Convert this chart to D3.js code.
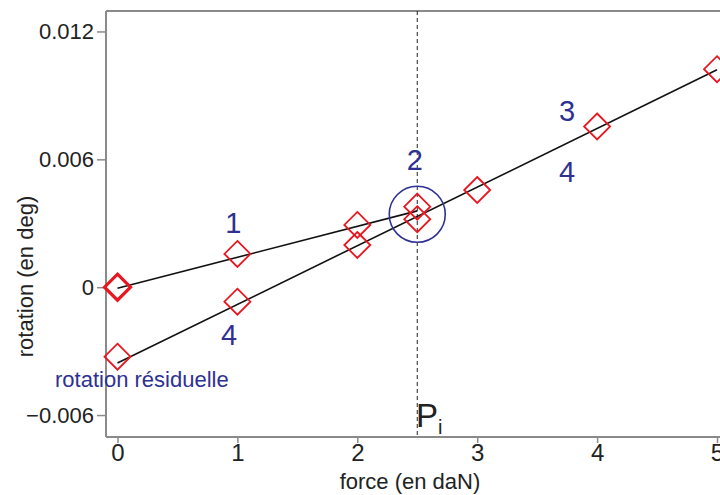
<!DOCTYPE html>
<html><head><meta charset="utf-8">
<script src="https://cdn.jsdelivr.net/npm/d3@7"></script>
<style>html,body{margin:0;padding:0;background:#fff;}svg{display:block;}</style>
</head><body>
<svg id="c" width="720" height="495"></svg>
<script>
// ---- data ----
const upperForces = [0, 1, 2, 2.5];
const upperRot    = [0, 0.00156, 0.00292, 0.00378];
const lowerForces = [0, 1, 2, 2.5, 3, 4, 5];
const lowerRot    = [-0.00326, -0.00068, 0.00198, 0.00319, 0.00456, 0.00754, 0.01023];
const upperFitX = [0, 2.5];
const upperFitY = [-0.00005, 0.00358];
const lowerFitX = [0, 5];
const lowerFitY = [-0.00356, 0.0102];
const xTicks = [0, 1, 2, 3, 4, 5];
const yTicks = [-0.006, 0, 0.006, 0.012];
const yTickLabels = ["\u22120.006", "0", "0.006", "0.012"];
const Pi = 2.5;
const circleCenter = [2.5, 0.00342];
const annotText = ["1", "4", "2", "3", "4"];
const annotX = [0.966, 0.93, 2.48, 3.75, 3.75];
const annotY = [0.00254, -0.00271, 0.0055, 0.00782, 0.00495];

// ---- layout ----
const svg = d3.select("#c");
const L = 106, T = 11, B = 437;
const x = d3.scaleLinear().domain([-0.1, 5.1]).range([105.5, 729]);
const y = d3.scaleLinear().domain([-0.00703, 0.01296]).range([B, T]);
const red = "#e8161e", blue = "#2e3192", gray = "#8a8a8a";
const font = "'Liberation Sans', Arial, sans-serif";

// frame
svg.append("line").attr("x1", L).attr("x2", 720).attr("y1", T).attr("y2", T)
  .attr("stroke", gray).attr("stroke-width", 2);

// axes
const yAxis = d3.axisLeft(y).tickValues(yTicks).tickFormat((d, i) => yTickLabels[i])
  .tickSizeInner(9).tickSizeOuter(0).tickPadding(3);
const gy = svg.append("g").attr("transform", `translate(${L},0)`).call(yAxis);
const xAxis = d3.axisBottom(x).tickValues(xTicks).tickFormat(d3.format("d"))
  .tickSizeInner(6).tickSizeOuter(0).tickPadding(1);
const gx = svg.append("g").attr("transform", `translate(0,${B})`).call(xAxis);
[gx, gy].forEach(g => {
  g.select(".domain").attr("stroke", gray).attr("stroke-width", 2);
  g.selectAll(".tick line").attr("stroke", gray).attr("stroke-width", 1.5);
  g.selectAll(".tick text").attr("fill", "#222").attr("font-family", font);
});
gy.selectAll(".tick text").attr("font-size", 22);
gx.selectAll(".tick text").attr("font-size", 24);
gy.select(".domain").attr("d", `M0,${B}V${T}`);
gx.select(".domain").attr("d", `M${L},0H720`);

// axis titles
svg.append("text").attr("transform", `translate(33,276.5) rotate(-90)`)
  .attr("text-anchor", "middle").attr("font-family", font).attr("font-size", 22)
  .attr("fill", "#222").text("rotation (en deg)");
svg.append("text").attr("x", 410).attr("y", 489)
  .attr("text-anchor", "middle").attr("font-family", font).attr("font-size", 22)
  .attr("fill", "#222").text("force (en daN)");

// dashed Pi line
svg.append("line").attr("x1", x(Pi)).attr("x2", x(Pi)).attr("y1", T).attr("y2", B)
  .attr("stroke", "#222").attr("stroke-width", 1).attr("stroke-dasharray", "4,3");

// fitted lines
const line = d3.line().x(d => x(d[0])).y(d => y(d[1]));
svg.append("path").attr("d", line(d3.zip(upperFitX, upperFitY)))
  .attr("fill", "none").attr("stroke", "#111").attr("stroke-width", 1.6);
svg.append("path").attr("d", line(d3.zip(lowerFitX, lowerFitY)))
  .attr("fill", "none").attr("stroke", "#111").attr("stroke-width", 1.6);

// markers
const dia = "M0,-13L13,0L0,13L-13,0Z";
const pts = d3.zip(upperForces, upperRot).map((d, i) => ({d, w: i === 0 ? 3.2 : 1.8}))
  .concat(d3.zip(lowerForces, lowerRot).map(d => ({d, w: 1.8})));
svg.selectAll("path.m").data(pts).join("path").attr("class", "m")
  .attr("d", dia).attr("transform", p => `translate(${x(p.d[0])},${y(p.d[1])})`)
  .attr("fill", "none").attr("stroke", red).attr("stroke-width", p => p.w);

// circle
svg.append("circle").attr("cx", x(circleCenter[0])).attr("cy", y(circleCenter[1])).attr("r", 28)
  .attr("fill", "none").attr("stroke", blue).attr("stroke-width", 1.6);

// annotations
svg.selectAll("text.a").data(d3.zip(annotText, annotX, annotY)).join("text").attr("class", "a")
  .attr("x", d => x(d[1])).attr("y", d => y(d[2])).attr("text-anchor", "middle")
  .attr("font-family", font).attr("font-size", 29).attr("fill", blue).text(d => d[0]);
svg.append("text").attr("x", x(-0.521)).attr("y", y(-0.0047))
  .attr("font-family", font).attr("font-size", 22).attr("fill", blue).text("rotation résiduelle");
const pt = svg.append("text").attr("x", x(2.49)).attr("y", y(-0.00655))
  .attr("font-family", font).attr("font-size", 33).attr("fill", "#222");
pt.append("tspan").text("P");
pt.append("tspan").attr("font-size", 20).attr("dy", 7).text("i");
</script>
</body></html>
